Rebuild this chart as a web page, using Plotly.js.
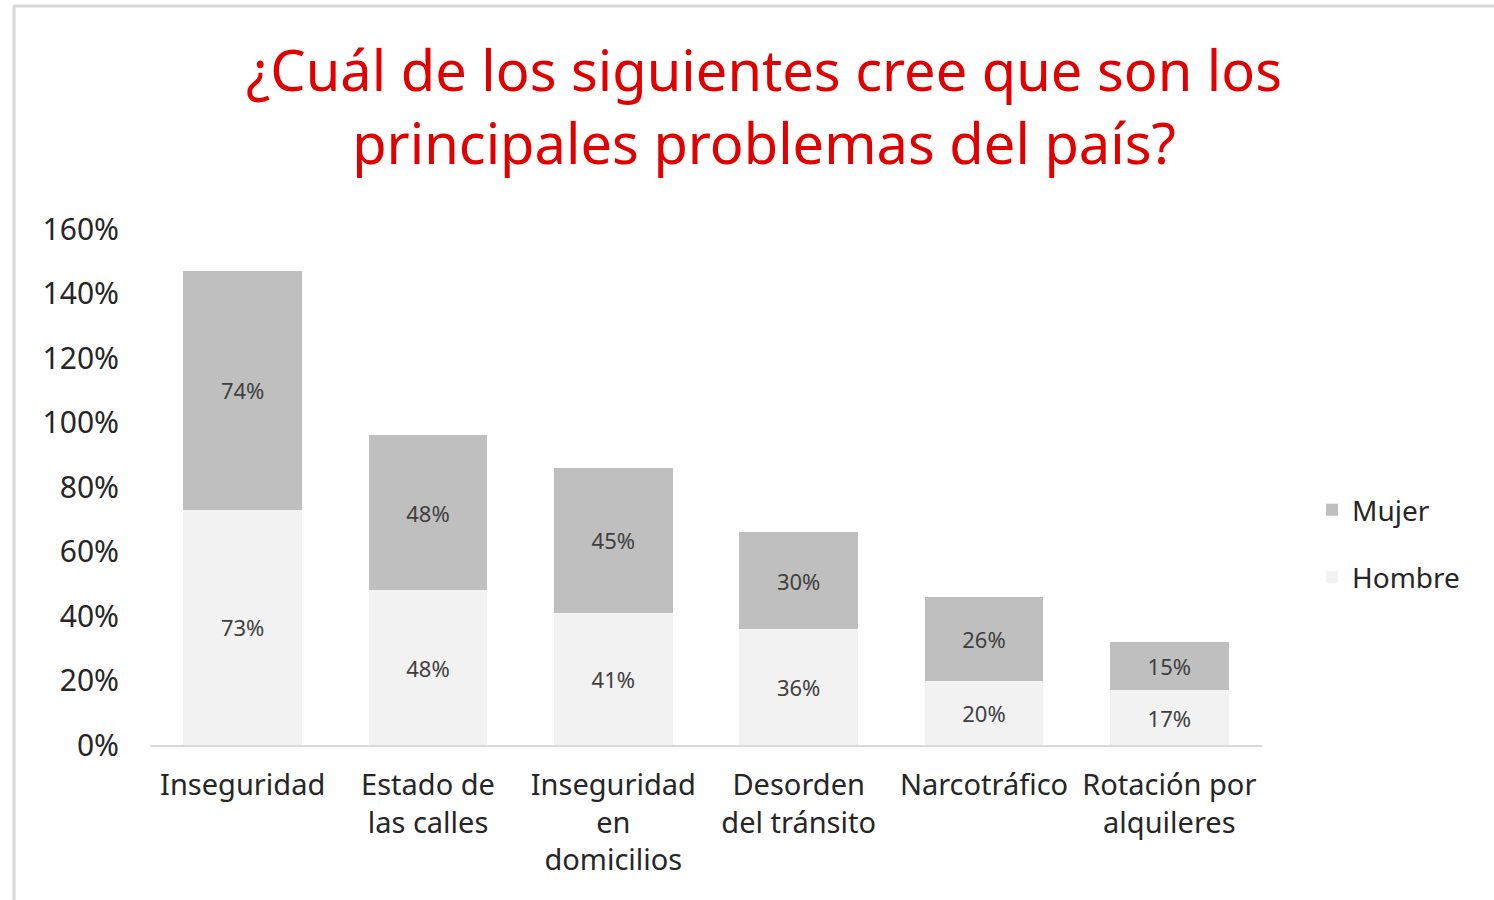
<!DOCTYPE html>
<html>
<head>
<meta charset="utf-8">
<script src="https://cdn.plot.ly/plotly-3.0.1.min.js"></script>
<style>
html,body{margin:0;padding:0;background:#fff;}
#chart{width:1494px;height:900px;}
</style>
</head>
<body>
<div id="chart"></div>
<script>
const categories = ["Inseguridad", "Estado de<br>las calles", "Inseguridad<br>en<br>domicilios", "Desorden<br>del tránsito", "Narcotráfico", "Rotación por<br>alquileres"];
const hombre = [73, 48, 41, 36, 20, 17];
const mujer = [74, 48, 45, 30, 26, 15];
const yTicks = [0, 20, 40, 60, 80, 100, 120, 140, 160];

const labelFont = {family: "Noto Sans, sans-serif", size: 22, color: "#404040"};

const traces = [
  {
    type: "bar", name: "Hombre", x: categories, y: hombre,
    text: hombre.map(v => v + "%"), textposition: "inside", insidetextanchor: "middle",
    textangle: 0, textfont: labelFont, hoverinfo: "skip",
    marker: {color: "#f2f2f2"}, legendgroup: "h", legendrank: 2
  },
  {
    type: "bar", name: "Mujer", x: categories, y: mujer,
    text: mujer.map(v => v + "%"), textposition: "inside", insidetextanchor: "middle",
    textangle: 0, textfont: labelFont, hoverinfo: "skip",
    marker: {color: "#bfbfbf"}, legendgroup: "m", legendrank: 1
  }
];

const L = 150, R = 1262, T = 229, B = 745;
const pw = R - L, ph = B - T;

const layout = {
  width: 1494, height: 900,
  paper_bgcolor: "#ffffff", plot_bgcolor: "#ffffff",
  margin: {l: L, r: 1494 - R, t: T, b: 900 - B, pad: 0},
  barmode: "stack", bargap: 0.36,
  showlegend: true,
  title: {
    text: "¿Cuál de los siguientes cree que son los<br>principales problemas del país?",
    font: {family: "Noto Sans, sans-serif", size: 56, color: "#e00000"},
    x: 764 / 1494, xanchor: "center", xref: "container",
    y: 1 - 91 / 900, yanchor: "middle", yref: "container"
  },
  xaxis: {
    showgrid: false, zeroline: false, showline: true, linecolor: "#d9d9d9", linewidth: 2,
    ticks: "", tickfont: {family: "Noto Sans, sans-serif", size: 29, color: "#262626"},
    ticklabelstandoff: 13, fixedrange: true
  },
  yaxis: {
    range: [0, 160], tickvals: yTicks, ticktext: yTicks.map(v => v + "%"),
    showgrid: false, zeroline: false, showline: false, ticks: "",
    tickfont: {family: "Noto Sans, sans-serif", size: 30, color: "#262626"},
    ticklabelstandoff: 30, fixedrange: true
  },
  legend: {
    x: 1312 / 1494, xref: "container", xanchor: "left",
    y: 1 - 485 / 900, yref: "container", yanchor: "top",
    traceorder: "grouped", tracegroupgap: 28,
    font: {family: "Noto Sans, sans-serif", size: 28, color: "#262626"},
    itemwidth: 30, bgcolor: "rgba(0,0,0,0)"
  },
  shapes: [{
    type: "rect", xref: "paper", yref: "paper",
    x0: (14 - L) / pw, x1: (1510 - L) / pw,
    y0: (B - 920) / ph, y1: (B - 6) / ph,
    line: {color: "#d9d9d9", width: 3}, fillcolor: "rgba(0,0,0,0)", layer: "below"
  }]
};

Plotly.newPlot("chart", traces, layout, {displayModeBar: false, staticPlot: true});
</script>
</body>
</html>
